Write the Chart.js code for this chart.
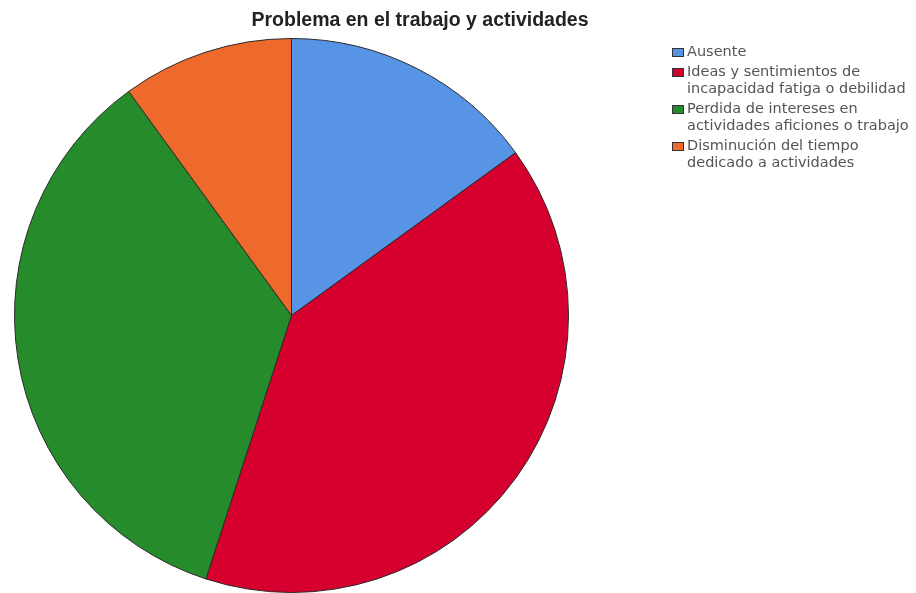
<!DOCTYPE html>
<html>
<head>
<meta charset="utf-8">
<script src="https://cdn.jsdelivr.net/npm/chart.js@4/dist/chart.umd.min.js"></script>
<style>
  html, body { margin: 0; padding: 0; background: #fff; overflow: hidden; }
  #wrap { position: relative; width: 916px; height: 593px; }
  #chart { position: absolute; left: 0; top: 0; }
  #titulo {
    position: absolute; left: 220px; width: 400px; top: 8px;
    text-align: center; font: bold 19.5px "Liberation Sans", Arial, sans-serif; color: #222;
  }
  #leyenda {
    position: absolute; left: 672px; top: 43px;
    font: 14.5px "DejaVu Sans", sans-serif; color: #555; line-height: 17.5px;
  }
  .item { display: flex; align-items: flex-start; margin-bottom: 2px; }
  .caja { width: 10px; height: 7px; border: 1px solid #333; margin-top: 5px; margin-right: 3px; flex: none; }
</style>
</head>
<body>
<div id="wrap">
  <canvas id="chart" width="916" height="593"></canvas>
  <div id="titulo">Problema en el trabajo y actividades</div>
  <div id="leyenda"></div>
</div>
<script>
// categorias y valores (porcentaje)
const categorias = [
    ['Ausente'],
    ['Ideas y sentimientos de', 'incapacidad fatiga o debilidad'],
    ['Perdida de intereses en', 'actividades aficiones o trabajo'],
    ['Disminución del tiempo', 'dedicado a actividades']
];
const valores = [15, 40, 35, 10];
const colores = ['#5794e5', '#d6002f', '#268b2a', '#ee6a2c'];

const ctx = document.getElementById('chart').getContext('2d');
const grafico = new Chart(ctx, {
    type: 'pie',
    data: {
        labels: categorias.map(c => c.join(' ')),
        datasets: [{
            data: valores,
            backgroundColor: colores,
            borderColor: '#2a2a2a',
            borderWidth: 1
        }]
    },
    options: {
        responsive: false,
        animation: false,
        layout: {
            padding: { left: 14, top: 38, right: 347, bottom: 0 }
        },
        plugins: {
            legend: { display: false },
            title: { display: false },
            tooltip: { enabled: false }
        }
    }
});

// leyenda
const leyenda = document.getElementById('leyenda');
categorias.forEach((lineas, i) => {
    const item = document.createElement('div');
    item.className = 'item';
    const caja = document.createElement('div');
    caja.className = 'caja';
    caja.style.background = colores[i];
    const texto = document.createElement('div');
    texto.innerHTML = lineas.join('<br>');
    item.appendChild(caja);
    item.appendChild(texto);
    leyenda.appendChild(item);
});
</script>
</body>
</html>
